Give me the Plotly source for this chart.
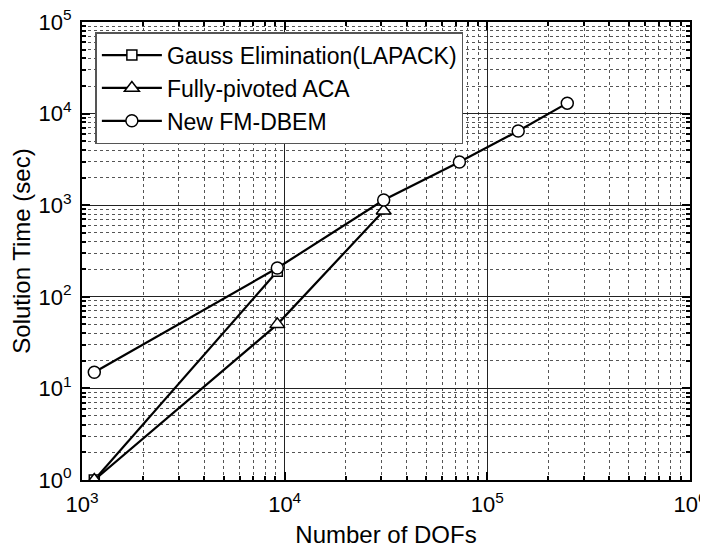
import plotly.graph_objects as go

gauss_x = [1150, 9200]
gauss_y = [1.0, 190]
aca_x = [1150, 9200, 30800]
aca_y = [1.0, 50, 870]
dbem_x = [1150, 9200, 30800, 72800, 142000, 248000]
dbem_y = [15, 206, 1140, 2960, 6450, 13000]

x_ticks = [1e3, 1e4, 1e5, 1e6]
x_labels = ["10<sup>3</sup>", "10<sup>4</sup>", "10<sup>5</sup>", "10<sup>6</sup>"]
y_ticks = [1, 10, 100, 1e3, 1e4, 1e5]
y_labels = ["10<sup>0</sup>", "10<sup>1</sup>", "10<sup>2</sup>", "10<sup>3</sup>", "10<sup>4</sup>", "10<sup>5</sup>"]

def minor_vals(lo, hi):
    return [m * 10 ** e for e in range(lo, hi) for m in range(2, 10)]

fig = go.Figure()
common_line = dict(color="black", width=2.2)
fig.add_trace(go.Scatter(x=gauss_x, y=gauss_y, mode="lines+markers", name="Gauss Elimination(LAPACK)",
                         line=common_line,
                         marker=dict(symbol="square", size=10, color="white", line=dict(color="black", width=1.5))))
fig.add_trace(go.Scatter(x=aca_x, y=aca_y, mode="lines+markers", name="Fully-pivoted ACA",
                         line=common_line,
                         marker=dict(symbol="triangle-up", size=13, color="white", line=dict(color="black", width=1.5))))
fig.add_trace(go.Scatter(x=dbem_x, y=dbem_y, mode="lines+markers", name="New FM-DBEM",
                         line=common_line,
                         marker=dict(symbol="circle", size=12, color="white", line=dict(color="black", width=1.5))))

fam = "Liberation Sans, Arial, sans-serif"
tick_font = dict(family=fam, size=22, color="black")
title_font = dict(family=fam, size=24, color="black")
axis_common = dict(
    type="log", showline=True, linecolor="black", linewidth=2, mirror="ticks",
    ticks="inside", ticklen=8, tickwidth=2, tickcolor="black",
    showgrid=True, gridcolor="#222222", gridwidth=1,
    zeroline=False, automargin=False, ticklabeloverflow="allow",
    tickfont=tick_font,
)
fig.update_xaxes(**axis_common, range=[3, 6], tickvals=x_ticks, ticktext=x_labels,
                 ticklabelstandoff=4,
                 minor=dict(tickvals=minor_vals(3, 6), ticks="inside", ticklen=4, tickwidth=1.5, tickcolor="black",
                            showgrid=True, gridcolor="#555555", griddash="dot", gridwidth=1),
                 title=dict(text="Number of DOFs", font=title_font, standoff=10))
fig.update_yaxes(**axis_common, range=[0, 5], tickvals=y_ticks, ticktext=y_labels,
                 ticklabelstandoff=4,
                 minor=dict(tickvals=minor_vals(0, 5), ticks="inside", ticklen=4, tickwidth=1.5, tickcolor="black",
                            showgrid=True, gridcolor="#555555", griddash="dot", gridwidth=1),
                 title=dict(text="Solution Time (sec)", font=title_font, standoff=8))

fig.update_layout(
    width=700, height=544,
    margin=dict(l=74, r=18, t=14, b=72),
    plot_bgcolor="white", paper_bgcolor="white",
    font=tick_font,
    legend=dict(x=0.022, y=0.978, xanchor="left", yanchor="top",
                bgcolor="white", bordercolor="#555555", borderwidth=1.5,
                font=dict(family=fam, size=23, color="black"),
                itemwidth=60, tracegroupgap=0),
    showlegend=True,
)

fig.write_html("out.html")
